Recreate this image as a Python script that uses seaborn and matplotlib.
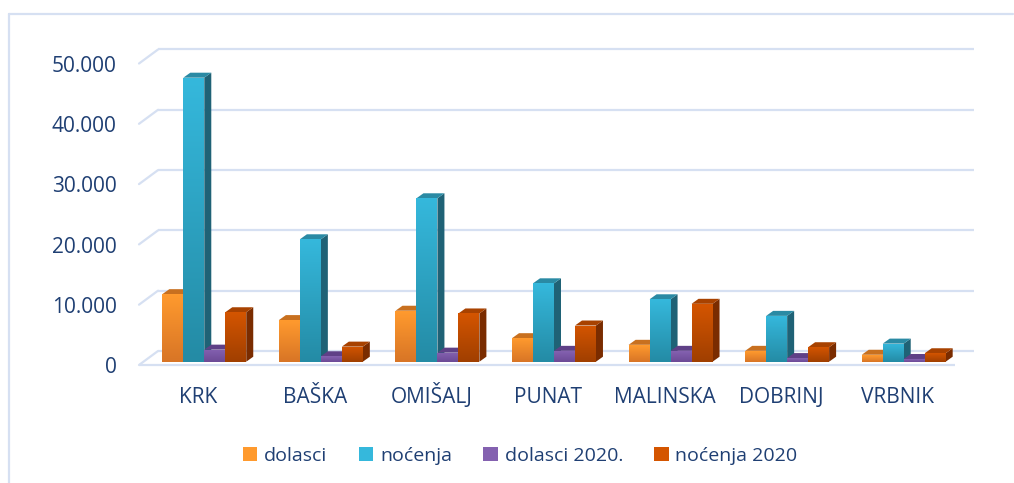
import numpy as np
import pandas as pd
import matplotlib
matplotlib.use("Agg")
import matplotlib.pyplot as plt
import seaborn as sns
from matplotlib.patches import Polygon, Rectangle
from matplotlib.lines import Line2D
from matplotlib.colors import LinearSegmentedColormap
from matplotlib.transforms import ScaledTranslation

# ---------------- data ----------------
categories = ["KRK", "BAŠKA", "OMIŠALJ", "PUNAT", "MALINSKA", "DOBRINJ", "VRBNIK"]
series_names = ["dolasci", "noćenja", "dolasci 2020.", "noćenja 2020"]
dolasci = [11200, 6900, 8450, 3900, 2800, 1800, 1150]
nocenja = [47100, 20300, 27100, 13000, 10350, 7600, 3000]
dolasci_2020 = [2000, 900, 1500, 1800, 1800, 600, 450]
nocenja_2020 = [8200, 2500, 8000, 6000, 9600, 2400, 1400]
y_ticks = [0, 10000, 20000, 30000, 40000, 50000]
y_tick_labels = ["0", "10.000", "20.000", "30.000", "40.000", "50.000"]

# ---------------- style ----------------
front_top = ["#FF9A2E", "#35B8DC", "#8461B0", "#D45500"]
front_bot = ["#D87526", "#248BA5", "#6C4A96", "#A03F00"]
side_col = ["#A85A16", "#1F6276", "#4E3470", "#7A2C00"]
top_col = ["#C8701F", "#2A8AA4", "#5F4087", "#A84200"]
grid_col = "#D6E0F2"
text_col = "#1F3F73"
FONT = ["Open Sans", "DejaVu Sans"]

sns.set_theme(style="white")
plt.rcParams["font.family"] = FONT

W, H, DPI = 1014, 483, 100
fig = plt.figure(figsize=(W / DPI, H / DPI), dpi=DPI)
fig.patch.set_facecolor("white")

ax_left, ax_right = 146, 962
ax_zero, ax_top = 361.7, 60.2
ax = fig.add_axes([ax_left / W, (H - ax_zero) / H,
                   (ax_right - ax_left) / W, (ax_zero - ax_top) / H])
ax.set_facecolor("none")

df = pd.DataFrame({
    "kategorija": np.repeat(categories, 4),
    "serija": series_names * len(categories),
    "vrijednost": np.ravel(np.column_stack([dolasci, nocenja, dolasci_2020, nocenja_2020])),
})

sns.barplot(data=df, x="kategorija", y="vrijednost", hue="serija",
            order=categories, hue_order=series_names,
            palette=front_top, width=0.72, legend=False, ax=ax,
            edgecolor="none", linewidth=0)

ax.set_xlim(-0.5, len(categories) - 0.5)
ax.set_ylim(0, 50000)

# pixel -> data conversion
ppx = (ax_right - ax_left) / (len(categories))          # px per x unit
ppy = (ax_zero - ax_top) / 50000.0                      # px per y unit


def dxp(px):
    return px / ppx


def dyp(px):
    return px / ppy


# ---------------- 3D-ish gridlines / walls ----------------
front_dx, front_dy = dxp(-7), dyp(-3.3)
back_dx, back_dy = dxp(12), dyp(10.7)
x0, x1 = -0.5, len(categories) - 0.5
for v in y_ticks:
    ax.plot([x0 + back_dx, x1 + back_dx], [v + back_dy, v + back_dy],
            color=grid_col, lw=1.6, clip_on=False, zorder=0.5, solid_capstyle="butt")
    ax.plot([x0 + front_dx, x0 + back_dx], [v + front_dy, v + back_dy],
            color=grid_col, lw=1.6, clip_on=False, zorder=0.5)
# floor front edge
ax.plot([x0 + front_dx, x1 + front_dx], [front_dy, front_dy],
        color=grid_col, lw=1.6, clip_on=False, zorder=0.5, solid_capstyle="butt")

# ---------------- 3D bars ----------------
depth_x, depth_y = dxp(7), dyp(5)
patches = list(ax.patches)
n_cat = len(categories)
for si in range(len(series_names)):
    cmap = LinearSegmentedColormap.from_list(f"g{si}", [front_bot[si], front_top[si]])
    for ci in range(n_cat):
        p = patches[si * n_cat + ci]
        x, w, h = p.get_x(), p.get_width(), p.get_height()
        z = 2 + ci * 10 + si
        p.set_zorder(z + 0.3)
        side = Polygon([(x + w, 0), (x + w, h), (x + w + depth_x, h + depth_y),
                        (x + w + depth_x, depth_y)], closed=True,
                       facecolor=side_col[si], edgecolor="none", zorder=z)
        ax.add_patch(side)
        top = Polygon([(x, h), (x + w, h), (x + w + depth_x, h + depth_y),
                       (x + depth_x, h + depth_y)], closed=True,
                      facecolor=top_col[si], edgecolor="none", zorder=z)
        ax.add_patch(top)
        grad = np.linspace(0, 1, 64).reshape(-1, 1)
        im = ax.imshow(grad, extent=(x, x + w, 0, h), origin="lower", cmap=cmap,
                       aspect="auto", zorder=z + 0.5, interpolation="bilinear")
        im.set_clip_path(p)

ax.set_xlim(-0.5, len(categories) - 0.5)
ax.set_ylim(0, 50000)

# ---------------- axes text ----------------
for s in ax.spines.values():
    s.set_visible(False)
ax.grid(False)
ax.set_xlabel("")
ax.set_ylabel("")
ax.set_yticks(y_ticks)
ax.set_yticklabels(y_tick_labels)
ax.tick_params(axis="y", length=0, pad=21, labelsize=15, labelcolor=text_col)
ax.tick_params(axis="x", length=0, pad=30, labelsize=15, labelcolor=text_col)

off_y = ScaledTranslation(0, -3.5 / DPI, fig.dpi_scale_trans)
for t in ax.get_yticklabels():
    t.set_transform(t.get_transform() + off_y)
off_x = ScaledTranslation(-6 / DPI, 0, fig.dpi_scale_trans)
for t in ax.get_xticklabels():
    t.set_verticalalignment("baseline")
    t.set_transform(t.get_transform() + off_x)

# ---------------- legend ----------------
handles = [Rectangle((0, 0), 1, 1, facecolor=c, edgecolor="none") for c in front_top]
fig.legend(handles, series_names, loc="center", bbox_to_anchor=(0.513, 0.056),
           ncol=4, frameon=False, fontsize=14, labelcolor=text_col,
           handlelength=0.75, handleheight=0.75, handletextpad=0.35,
           columnspacing=1.6)

# ---------------- outer frame ----------------
fig.add_artist(Line2D([8.5 / W, 8.5 / W], [0, (H - 14) / H], color=grid_col, lw=1.6,
                      transform=fig.transFigure))
fig.add_artist(Line2D([8.5 / W, 1013 / W], [(H - 14) / H, (H - 14) / H], color=grid_col,
                      lw=1.6, transform=fig.transFigure))

fig.savefig("out.png", dpi=DPI, facecolor="white")
